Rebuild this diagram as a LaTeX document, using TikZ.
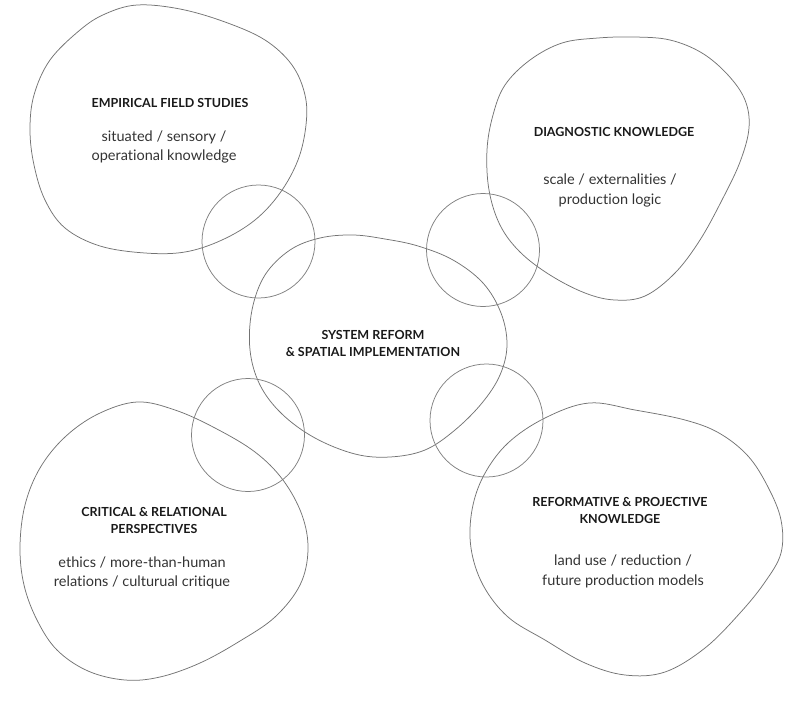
\documentclass[tikz,border=0pt]{standalone}
\usepackage{fontspec}
\setmainfont{Lato}[Ligatures={NoCommon}]
\begin{document}
\begin{tikzpicture}[x=1pt,y=-1pt,
  blob/.style={draw=black!55, line width=0.75pt},
  ring/.style={draw=black!50, line width=0.75pt},
  head/.style={align=center, inner sep=0pt, text=black!90, font=\fontsize{12.5}{17}\selectfont\bfseries},
  body/.style={align=center, inner sep=0pt, text=black!80, font=\fontsize{14.5}{19.5}\selectfont}]
\useasboundingbox (0,0) rectangle (804,702);
% blobs
\draw[blob] plot[smooth cycle, tension=0.6] coordinates {(137,5) (180,9) (225,22) (265,40) (292,65) (305,95) (306,125) (298,160) (280,193) (255,220) (222,240) (185,252) (145,253) (100,246) (65,228) (45,200) (34,165) (30,130) (34,95) (50,60) (80,30) (105,14)};
\draw[blob] plot[smooth cycle, tension=0.6] coordinates {(635,37) (670,40) (702,53) (728,75) (745,100) (749,128) (740,162) (722,200) (700,240) (675,273) (645,296) (615,300) (585,293) (550,275) (520,252) (500,225) (489,190) (487,150) (493,115) (505,85) (530,60) (562,43) (598,38)};
\draw[blob] plot[smooth cycle, tension=0.6] coordinates {(137,402) (175,410) (215,428) (255,452) (283,480) (302,515) (308,550) (300,585) (275,617) (240,641) (200,663) (160,677) (125,680) (88,671) (57,650) (37,620) (24,585) (20,547) (25,505) (40,468) (65,437) (98,414)};
\draw[blob] plot[smooth cycle, tension=0.6] coordinates {(589,403) (635,410) (685,420) (719,433) (748,456) (768,487) (781,520) (781,553) (765,582) (740,613) (705,648) (665,672) (625,675) (585,663) (545,640) (508,617) (483,585) (471,548) (472,510) (484,475) (508,443) (545,418)};
\draw[blob] plot[smooth cycle, tension=0.6] coordinates {(353,235) (385,239) (418,246) (453,260) (483,283) (501,313) (507,345) (500,375) (482,403) (455,430) (425,450) (390,457) (355,454) (315,438) (282,414) (260,385) (250,350) (252,310) (265,275) (290,250) (320,238)};
% circles
\draw[ring] (258.5,241.5) circle (56.5);
\draw[ring] (483,250) circle (56.5);
\draw[ring] (248,435) circle (56.5);
\draw[ring] (486.5,420.5) circle (56.5);
% texts
\node[head] (h1) at (170,103) {EMPIRICAL FIELD STUDIES};
\node[body] (b1) at (164,147) {situated / sensory /\\operational knowledge};
\node[head] (h2) at (614,132) {DIAGNOSTIC KNOWLEDGE};
\node[body] (b2) at (610,190.5) {scale / externalities /\\production logic};
\node[head] (h0) at (373,343.5) {SYSTEM REFORM\\\& SPATIAL IMPLEMENTATION};
\node[head] (h3) at (154,520) {CRITICAL \& RELATIONAL\\PERSPECTIVES};
\node[body] (b3) at (142,573) {ethics / more-than-human\\relations / culturual critique};
\node[head] (h4) at (620,510) {REFORMATIVE \& PROJECTIVE\\KNOWLEDGE};
\node[body] (b4) at (623,571.5) {land use / reduction /\\future production models};
\end{tikzpicture}
\end{document}
